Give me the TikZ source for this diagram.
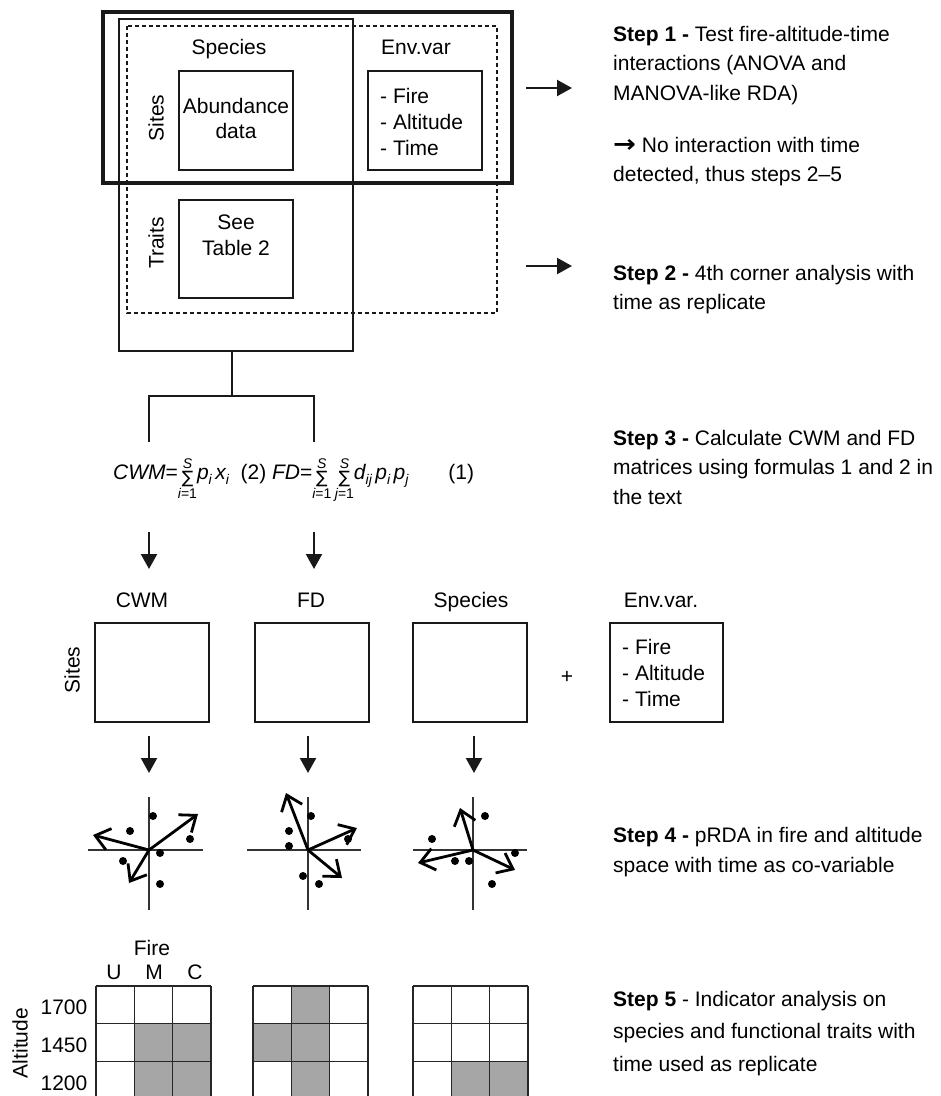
\documentclass[tikz,border=0pt]{standalone}
\usepackage{fontspec}
\usepackage{graphicx}
\setmainfont{Liberation Sans}
\newfontfamily\dejavu{DejaVu Sans}
\usetikzlibrary{arrows.meta}
\definecolor{ln}{RGB}{25,25,25}
\definecolor{cellgray}{RGB}{166,166,166}
\newcommand\mysub[1]{\raisebox{-5pt}{\fontsize{14}{14}\selectfont\itshape #1}}
\newcommand\mysum[2]{$\mathop{\raisebox{-4pt}{\dejavu\fontsize{17}{17}\selectfont ∑}}\limits^{\hbox{\fontsize{14}{14}\selectfont\itshape #1}}_{\hbox{\fontsize{14}{14}\selectfont #2}}$}
\begin{document}
\begin{tikzpicture}[x=1pt,y=-1pt,
  thinln/.style={draw=ln, line width=1.3pt},
  thickln/.style={draw=ln, line width=3.2pt},
  dashln/.style={draw=ln, line width=1.2pt, dash pattern=on 4pt off 3pt},
  box/.style={thinln, rectangle, inner sep=0, minimum width=114pt, minimum height=99pt},
  lbl/.style={inner sep=0, font=\fontsize{21}{26}\selectfont},
  steptext/.style={anchor=north west, inner sep=0, align=left, font=\fontsize{21}{29.5}\selectfont},
  darr/.style={draw=ln, line width=2.2pt, -{Triangle[length=15pt,width=16pt]}},
  oarr/.style={draw=black, line width=2.8pt, -{Straight Barb[length=14pt,width=22pt]}},
  axisln/.style={draw=black!80, line width=1.3pt},
  dot/.style={fill=black},
  gl/.style={draw=black!85, line width=1.3pt}]
\useasboundingbox (0,0) rectangle (941,1096);

% ---------- top block ----------
\draw[thinln] (119,19) rectangle (353,351);
\draw[dashln] (127,26) rectangle (497,313);
\draw[thickln] (103,12) rectangle (512,183);

\node[lbl, anchor=base] (spec) at (229,54) {Species};
\node[lbl, anchor=base] (envl) at (416,54) {Env.var};
\node[lbl, rotate=90] (sites) at (156,118) {Sites};
\node[lbl, rotate=90] (traits) at (156,243) {Traits};

\node[box] (abund) at (236,120.5) {};
\node[lbl, anchor=north, align=center, font=\fontsize{21}{25}\selectfont] (abundtxt) at (236,98) {Abundance\\data};
\node[box] (envbox) at (425,120.5) {};
\node[lbl, anchor=north west, align=left] (envtxt) at (380,88) {- Fire\\- Altitude\\- Time};
\node[box, minimum height=98pt] (trbox) at (236,249) {};
\node[lbl, anchor=north, align=center, font=\fontsize{21}{26}\selectfont] (trtxt) at (236,215) {See\\Table 2};

% connector tree
\coordinate (tA) at (232,351);
\coordinate (tB) at (232,396);
\coordinate (tL) at (149,396);
\coordinate (tR) at (314,396);
\coordinate (tLb) at (149,442);
\coordinate (tRb) at (314,442);
\draw[thinln] (tA) -- (tB);
\draw[thinln] (tLb) -- (tL) -- (tR) -- (tRb);

% right arrows
\coordinate (a1s) at (526,88);
\coordinate (a1e) at (572,88);
\coordinate (a2s) at (526,266);
\coordinate (a2e) at (572,266);
\draw[darr] (a1s) -- (a1e);
\draw[darr] (a2s) -- (a2e);

% ---------- formula ----------
\node[inner sep=0, anchor=base west, font=\fontsize{21}{21}\selectfont] (formula) at (113,479)
 {\itshape CWM\upshape=\mysum{S}{\itshape i\upshape=1}\itshape p\mysub{i}\,x\mysub{i}\upshape\ \ (2) \itshape FD\upshape=\mysum{S}{\itshape i\upshape=1}\,\mysum{S}{\itshape j\upshape=1}\itshape d\mysub{ij}\,p\mysub{i}\,p\mysub{j}\upshape\hspace{40pt}(1)};

\coordinate (f1s) at (149,532);
\coordinate (f1e) at (149,569);
\coordinate (f2s) at (314,532);
\coordinate (f2e) at (314,569);
\draw[darr] (f1s) -- (f1e);
\draw[darr] (f2s) -- (f2e);

% ---------- lower matrices ----------
\node[lbl, anchor=base] (cwml) at (142,607) {CWM};
\node[lbl, anchor=base] (fdl) at (311,607) {FD};
\node[lbl, anchor=base] (spl) at (471,607) {Species};
\node[lbl, anchor=base] (evl) at (661,607) {Env.var.};
\node[lbl, rotate=90] (sites2) at (72,670) {Sites};

\node[box] (cwmbox) at (152,672.5) {};
\node[box] (fdbox) at (312,672.5) {};
\node[box] (spbox) at (470,672.5) {};
\node[box, minimum width=113pt] (evbox) at (666.5,672.5) {};
\node[lbl] (plus) at (567,677) {+};
\node[lbl, anchor=north west, align=left] (evtxt) at (622,639) {- Fire\\- Altitude\\- Time};

\coordinate (b1s) at (149,736);
\coordinate (b1e) at (149,773);
\coordinate (b2s) at (308,736);
\coordinate (b2e) at (308,773);
\coordinate (b3s) at (474,736);
\coordinate (b3e) at (474,773);
\draw[darr] (b1s) -- (b1e);
\draw[darr] (b2s) -- (b2e);
\draw[darr] (b3s) -- (b3e);

% ---------- ordination plots ----------
\begin{scope}[shift={(149,850)}]
  \draw[axisln] (-61,0) -- (54,0);
  \draw[axisln] (0,-53) -- (0,60);
  \draw[oarr] (0,0) -- (-56,-15);
  \draw[oarr] (0,0) -- (49,-36);
  \draw[oarr] (0,0) -- (-20,33);
  \foreach \p in {(4,-34),(-19,-19),(41,-11),(11,3),(-26,11),(11,34)} \fill[dot] \p circle (4pt);
\end{scope}
\begin{scope}[shift={(308,850)}]
  \draw[axisln] (-61,0) -- (53,0);
  \draw[axisln] (0,-53) -- (0,60);
  \draw[oarr] (0,0) -- (-22,-57);
  \draw[oarr] (0,0) -- (49,-22);
  \draw[oarr] (0,0) -- (34,28);
  \foreach \p in {(3,-34),(-19,-19),(-19,-4),(40,-11),(-5,26),(11,34)} \fill[dot] \p circle (4pt);
\end{scope}
\begin{scope}[shift={(473,850)}]
  \draw[axisln] (-60,0) -- (54,0);
  \draw[axisln] (0,-53) -- (0,60);
  \draw[oarr] (0,0) -- (-13,-42);
  \draw[oarr] (0,0) -- (-55,13);
  \draw[oarr] (0,0) -- (42,20);
  \foreach \p in {(12,-34),(-41,-11),(-18,11),(-4,11),(42,3),(19,34)} \fill[dot] \p circle (4pt);
\end{scope}

% ---------- grids ----------
\node[lbl, anchor=base] (fire) at (152,955) {Fire};
\node[lbl, anchor=base] (gu) at (114,979) {U};
\node[lbl, anchor=base] (gm) at (154,979) {M};
\node[lbl, anchor=base] (gc) at (195,979) {C};
\node[lbl, anchor=base east] (r1) at (87.5,1014) {1700};
\node[lbl, anchor=base east] (r2) at (87.5,1052) {1450};
\node[lbl, anchor=base east] (r3) at (87.5,1090) {1200};
\node[lbl, rotate=90] (alt) at (20,1043) {Altitude};

\def\cw{38.33}
\def\ch{37.7}
\foreach \gx/\cells in {96/{1/1,2/1,1/2,2/2}, 253/{1/0,0/1,1/1,1/2}, 413/{1/2,2/2}}{
  \begin{scope}[shift={(\gx,986)}]
    \foreach \c/\r in \cells \fill[cellgray] (\c*\cw,\r*\ch) rectangle ++(\cw,\ch);
    \foreach \i in {0,1,2,3} \draw[gl] (\i*\cw,0) -- (\i*\cw,3*\ch);
    \foreach \j in {0,1,2,3} \draw[gl] (0,\j*\ch) -- (3*\cw,\j*\ch);
  \end{scope}
}

% ---------- step texts ----------
\node[steptext] (s1) at (613,25.7) {\textbf{Step 1 -} Test fire-altitude-time\\interactions (ANOVA and\\MANOVA-like RDA)\\[22.5pt]{\dejavu\bfseries\scalebox{1.3}[1.15]{→}} No interaction with time\\detected, thus steps 2–5};
\node[steptext] (s2) at (613,264.7) {\textbf{Step 2 -} 4th corner analysis with\\time as replicate};
\node[steptext] (s3) at (613,429.7) {\textbf{Step 3 -} Calculate CWM and FD\\matrices using formulas 1 and 2 in\\the text};
\node[steptext, font=\fontsize{21}{30}\selectfont] (s4) at (613,826.7) {\textbf{Step 4 -} pRDA in fire and altitude\\space with time as co-variable};
\node[steptext, font=\fontsize{21}{32.5}\selectfont] (s5) at (613,990.7) {\textbf{Step 5} - Indicator analysis on\\species and functional traits with\\time used as replicate};
\end{tikzpicture}
\end{document}
